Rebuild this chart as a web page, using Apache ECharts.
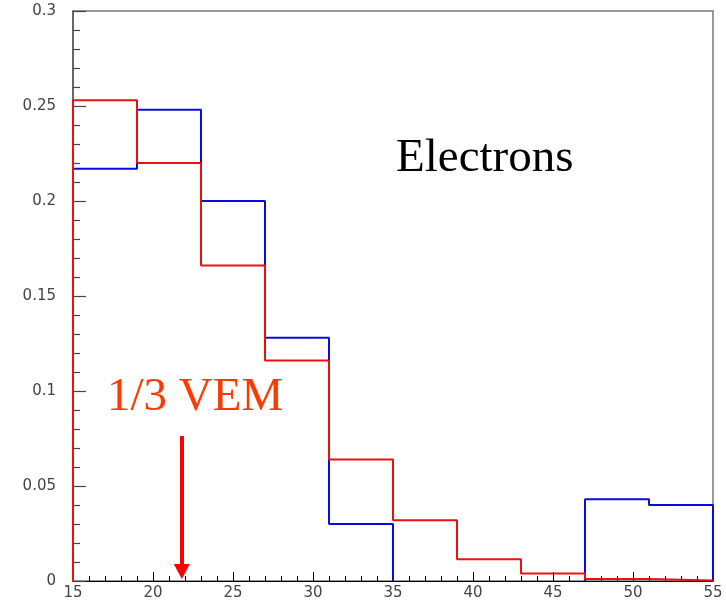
<!DOCTYPE html>
<html>
<head>
<meta charset="utf-8">
<title>Electrons</title>
<script src="https://cdn.jsdelivr.net/npm/echarts@6/dist/echarts.min.js"></script>
<style>
  html, body { margin: 0; padding: 0; background: #ffffff; }
  #chart { width: 726px; height: 603px; }
</style>
</head>
<body>
<div id="chart"></div>
<script>
// Bin lower edges (bin width 4) and the upper edge of the last bin
const binEdges = [15, 19, 23, 27, 31, 35, 39, 43, 47, 51];
const lastEdge = 55;

// Normalised bin contents
const blueValues = [0.217, 0.248, 0.200, 0.128, 0.030, 0, 0, 0, 0.043, 0.040];
const redValues  = [0.253, 0.220, 0.166, 0.116, 0.064, 0.032, 0.0115, 0.004, 0.0011, 0.0003];

// "1/3 VEM" threshold arrow
const arrowX = [21.8];
const arrowY = [0.0763, 0.005];

// Axis ticks
const xTicks = { min: 15, max: 55, step: 5 };
const yTicks = { min: 0, max: 0.3, step: 0.05 };

// Outline of a step histogram: up from zero, across each bin, down to zero.
// Empty bins leave a gap so nothing is drawn along the x axis there.
function histogramOutline(values) {
  const pts = [[binEdges[0], 0]];
  values.forEach((v, i) => {
    const next = i + 1 < binEdges.length ? binEdges[i + 1] : lastEdge;
    if (v === 0) {
      pts.push([binEdges[i], 0]);
      pts.push([binEdges[i], '-']);
      pts.push([next, 0]);
    } else {
      pts.push([binEdges[i], v]);
    }
  });
  pts.push([lastEdge, values[values.length - 1]]);
  pts.push([lastEdge, 0]);
  return pts;
}

const labelStyle = {
  color: '#444444',
  fontSize: 15,
  fontFamily: 'DejaVu Sans'
};

const chart = echarts.init(document.getElementById('chart'), null, { renderer: 'canvas' });

chart.setOption({
  animation: false,
  backgroundColor: '#ffffff',
  grid: {
    left: 73, right: 13, top: 11, bottom: 22,
    show: true,
    borderColor: '#7a7a7a',
    borderWidth: 1.5,
    backgroundColor: 'transparent'
  },
  xAxis: {
    type: 'value',
    min: xTicks.min, max: xTicks.max, interval: xTicks.step,
    axisLine: { show: true, onZero: false, lineStyle: { color: '#000', width: 1.2 } },
    axisTick: { show: true, inside: true, length: 9, lineStyle: { color: '#000', width: 1 } },
    minorTick: { show: true, splitNumber: 5, length: 5, lineStyle: { color: '#000', width: 1 } },
    splitLine: { show: false },
    minorSplitLine: { show: false },
    axisLabel: Object.assign({ margin: 5, showMinLabel: true, showMaxLabel: true }, labelStyle)
  },
  yAxis: {
    type: 'value',
    min: yTicks.min, max: yTicks.max, interval: yTicks.step,
    axisLine: { show: true, onZero: false, lineStyle: { color: '#555', width: 1.5 } },
    axisTick: { show: true, inside: true, length: 13, lineStyle: { color: '#444', width: 1.2 } },
    minorTick: { show: true, splitNumber: 5, length: 7, lineStyle: { color: '#444', width: 1.2 } },
    splitLine: { show: false },
    minorSplitLine: { show: false },
    axisLabel: Object.assign({ margin: 17, showMinLabel: true, showMaxLabel: true }, labelStyle)
  },
  series: [
    {
      name: 'blue',
      type: 'line',
      step: 'end',
      symbol: 'none',
      silent: true,
      connectNulls: false,
      lineStyle: { color: '#0b0bdc', width: 2 },
      data: histogramOutline(blueValues),
      z: 2
    },
    {
      name: 'red',
      type: 'line',
      step: 'end',
      symbol: 'none',
      silent: true,
      connectNulls: false,
      lineStyle: { color: '#e81212', width: 2 },
      data: histogramOutline(redValues),
      z: 3,
      markLine: {
        silent: true,
        symbol: ['none', 'triangle'],
        symbolSize: [16, 15],
        label: { show: false },
        lineStyle: { color: '#ff0000', width: 4, type: 'solid' },
        emphasis: { disabled: true },
        data: [[
          { coord: [arrowX[0], arrowY[0]] },
          { coord: [arrowX[0], arrowY[1]] }
        ]]
      }
    }
  ],
  graphic: [
    {
      type: 'text',
      x: 396, y: 135,
      silent: true,
      style: {
        text: 'Electrons',
        fill: '#000000',
        font: '47px "Liberation Serif"',
        verticalAlign: 'top'
      }
    },
    {
      type: 'text',
      x: 107, y: 374,
      silent: true,
      style: {
        text: '1/3 VEM',
        fill: '#ff3a00',
        font: '47px "Liberation Serif"',
        verticalAlign: 'top'
      }
    }
  ]
});
</script>
</body>
</html>
